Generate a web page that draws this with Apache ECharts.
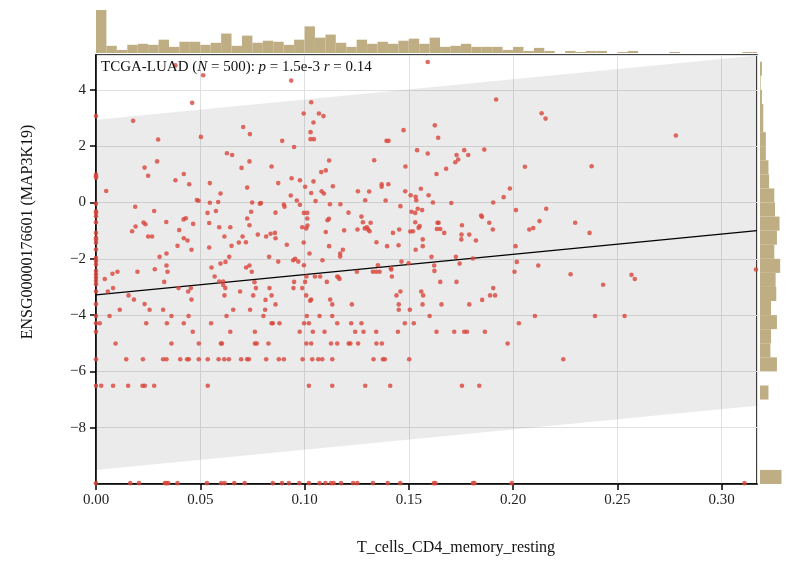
<!DOCTYPE html>
<html>
<head>
<meta charset="utf-8">
<script src="https://cdn.jsdelivr.net/npm/echarts@6/dist/echarts.min.js"></script>
<style>
  html, body { margin: 0; padding: 0; background: #fff; }
  #chart { width: 788px; height: 562px; }
</style>
</head>
<body>
<div id="chart"></div>
<script>
// ---------- data ----------
const cohort = 'TCGA-LUAD';
const sampleCount = 500;
const pText = '1.5e-3';
const rText = '0.14';
const xName = 'T_cells_CD4_memory_resting';
const yName = 'ENSG00000176601 (MAP3K19)';

// samples with zero T_cells_CD4_memory_resting fraction (expression values)
const zeroFractionExpr = [3.07, 0.99, 0.93, 0.88, -0.04, -0.31, -0.37, -0.49, -0.70, -1.08, -1.25, -1.31,
  -1.43, -1.67, -1.97, -2.08, -2.20, -2.43, -2.55, -2.66, -2.78, -2.90, -3.16, -3.61, -4.03, -4.29, -4.59,
  -5.57, -6.51, -9.97];

// samples at the expression floor (fractions)
const floorExpr = -9.97;
const floorFraction = [0.0164, 0.0206, 0.0330, 0.0338, 0.0346, 0.0391, 0.0532, 0.0600, 0.0617, 0.0663,
  0.0713, 0.0848, 0.0892, 0.0925, 0.0975, 0.1021, 0.1072, 0.1100, 0.1127, 0.1140, 0.1175, 0.1233, 0.1253,
  0.1328, 0.1399, 0.1459, 0.1620, 0.1628, 0.1808, 0.1815, 0.1994, 0.3110];

// two low discrete expression levels (fractions)
const lowLevelA = -5.57;
const lowLevelAFraction = [0.0145, 0.0225, 0.0322, 0.0338, 0.0404, 0.0437, 0.0445, 0.0493, 0.0536, 0.0588,
  0.0615, 0.0637, 0.0696, 0.0725, 0.0733, 0.0816, 0.0877, 0.0901, 0.0991, 0.1037, 0.1066, 0.1085, 0.1133,
  0.1331, 0.1376, 0.1385, 0.1502, 0.2241];
const lowLevelB = -6.51;
const lowLevelBFraction = [0.0025, 0.0082, 0.0154, 0.0223, 0.0234, 0.0279, 0.0536, 0.1021, 0.1133, 0.1291,
  0.1411, 0.1755, 0.1838];

// remaining samples: fraction / expression pairs
const fraction = [
  0.0381, 0.0514, 0.0461, 0.0178, 0.0706, 0.0738, 0.0298, 0.0503, 0.0628, 0.0653, 0.0736, 0.0293, 0.0233,
  0.0250, 0.0698, 0.0421, 0.0381, 0.0447, 0.0546, 0.0049, 0.0725, 0.0597, 0.0484, 0.0492, 0.0546, 0.0586,
  0.0749, 0.0786, 0.0188, 0.0279, 0.0535, 0.0575, 0.0744, 0.0420, 0.0431, 0.0337, 0.0228, 0.0237, 0.0190,
  0.0466, 0.0543, 0.0725, 0.0736, 0.0591, 0.0644, 0.0173, 0.0399, 0.0776, 0.0250, 0.0269, 0.0421, 0.0439,
  0.0616, 0.0703, 0.0685, 0.0719, 0.0391, 0.0650, 0.0458, 0.0543, 0.0338, 0.0305, 0.0639, 0.0597, 0.0621,
  0.0338, 0.0282, 0.0554, 0.0720, 0.0736,
  0.0042, 0.0079, 0.0103, 0.0199, 0.0343, 0.0327, 0.0057, 0.0082, 0.0156, 0.0182, 0.0233, 0.0257, 0.0322,
  0.0114, 0.0065, 0.0241, 0.0340, 0.0362, 0.0396, 0.0442, 0.0455, 0.0458, 0.0421, 0.0444, 0.0464, 0.0094,
  0.0362, 0.0493, 0.0569, 0.0591, 0.0610, 0.0610, 0.0620, 0.0616, 0.0691, 0.0760, 0.0767, 0.0754, 0.0658,
  0.0739, 0.0626, 0.0552, 0.0644, 0.0762, 0.0599, 0.0604, 0.0762, 0.0771, 0.0747, 0.0018,
  0.0936, 0.1591, 0.1032, 0.0996, 0.1069, 0.1091, 0.1043, 0.1029, 0.1029, 0.1045, 0.0893, 0.0950, 0.1475,
  0.1393, 0.1403, 0.1540, 0.1591, 0.1118, 0.1334, 0.0842, 0.1484, 0.1080, 0.1102, 0.0938, 0.0978, 0.1043,
  0.0874, 0.1003, 0.1136, 0.1370, 0.1370, 0.1402, 0.1256, 0.1310, 0.1082, 0.1093, 0.1032, 0.1558, 0.0934,
  0.0963, 0.1483, 0.1509, 0.1533, 0.1536, 0.1595, 0.0791, 0.0901, 0.0904, 0.0978, 0.1053, 0.1122, 0.1172,
  0.1291, 0.1389, 0.1460, 0.1543, 0.1564, 0.1513, 0.1531, 0.0861, 0.0997, 0.1013, 0.1211, 0.1273, 0.1280,
  0.1317, 0.1013, 0.1110, 0.1117, 0.0989, 0.1008, 0.1014, 0.1254, 0.1289, 0.1305, 0.1312, 0.1299, 0.1531,
  0.1552, 0.1547, 0.1507, 0.1520, 0.1454, 0.1424, 0.1190, 0.1102, 0.0816, 0.0837, 0.0858, 0.0861, 0.1567,
  0.1567, 0.0915, 0.0996, 0.1118, 0.1345, 0.1396, 0.1451, 0.1533, 0.1024, 0.1171, 0.1171, 0.1184, 0.0830,
  0.0874, 0.0946, 0.0955, 0.0970, 0.1086, 0.0997, 0.1352, 0.1414, 0.1465, 0.1499,
  0.1009, 0.1050, 0.1075, 0.1157, 0.1163, 0.1168, 0.1107, 0.1251, 0.1328, 0.1344, 0.1360, 0.1416, 0.1419,
  0.0950, 0.1003, 0.0832, 0.0947, 0.0989, 0.0842, 0.0813, 0.0861, 0.0811, 0.0803, 0.1008, 0.1027, 0.1032,
  0.1123, 0.1133, 0.1227, 0.1072, 0.1011, 0.1133, 0.0842, 0.0848, 0.0880, 0.0998, 0.1021, 0.1157, 0.1224,
  0.1273, 0.1441, 0.1460, 0.1452, 0.1452, 0.1560, 0.1569, 0.1566, 0.1505, 0.1481, 0.1524, 0.1600, 0.0977,
  0.1040, 0.1096, 0.1243, 0.1283, 0.1344, 0.1448, 0.0827, 0.1009, 0.1032, 0.1127, 0.1157, 0.1212, 0.1220,
  0.1257, 0.1345, 0.1371,
  0.1919, 0.2137, 0.2156, 0.1625, 0.1641, 0.1729, 0.1737, 0.1723, 0.1766, 0.1785, 0.1862, 0.1679, 0.1633,
  0.2057, 0.2377, 0.1985, 0.1955, 0.1616, 0.1704, 0.1905, 0.2014, 0.2159, 0.1847, 0.1851, 0.1638, 0.1643,
  0.1635, 0.1651, 0.1670, 0.1755, 0.1886, 0.1903, 0.2127, 0.2078, 0.2097, 0.2298, 0.2367, 0.1753, 0.1752,
  0.1790, 0.1822, 0.2012, 0.1609, 0.1726, 0.1807, 0.1744, 0.2018, 0.2121, 0.1622,
  0.1623, 0.2007, 0.2276, 0.1651, 0.1729, 0.1905, 0.1890, 0.1914, 0.1852, 0.1657, 0.1790, 0.2105, 0.2393,
  0.2028, 0.1633, 0.1718, 0.1766, 0.1779, 0.1865, 0.1974,
  0.2781, 0.2432, 0.2568, 0.2584, 0.2535, 0.3165
];
const expression = [
  4.87, 4.52, 3.54, 2.90, 2.68, 2.43, 2.24, 2.33, 1.75, 1.69, 1.46, 1.46, 1.24,
  0.95, 1.23, 1.01, 0.79, 0.65, 0.69, 0.41, 0.53, 0.32, 0.09, 0.06, -0.01, 0.02,
  0.00, -0.04, -0.15, -0.30, -0.37, -0.30, -0.33, -0.60, -0.56, -0.69, -0.71, -0.77, -0.85,
  -0.76, -0.73, -0.57, -0.81, -0.88, -0.88, -1.02, -0.98, -1.14, -1.21, -1.21, -1.27, -1.35,
  -1.21, -1.21, -1.42, -1.41, -1.54, -1.54, -1.68, -1.60, -1.81, -1.93, -1.93, -2.17, -2.11,
  -2.24, -2.37, -2.31, -2.31, -2.24,
  -2.72, -2.53, -2.46, -2.46, -2.46, -2.82, -3.16, -3.04, -3.30, -3.45, -3.61, -3.81, -3.81,
  -3.81, -4.03, -4.29, -4.29, -4.03, -3.04, -3.16, -3.04, -3.45, -4.29, -4.03, -4.59, -5.01,
  -5.01, -5.01, -2.63, -2.81, -2.81, -2.93, -3.04, -3.30, -3.16, -2.83, -3.04, -3.30, -3.81,
  -3.81, -4.03, -4.29, -4.59, -4.59, -5.01, -5.01, -5.01, -5.01, -2.46, -4.29,
  4.33, 4.99, 3.56, 3.16, 3.16, 3.07, 2.84, 2.50, 2.25, 2.25, 2.19, 1.97, 2.57,
  2.19, 2.19, 1.86, 1.74, 1.49, 1.50, 1.28, 1.28, 1.08, 1.14, 0.86, 0.79, 0.75,
  0.69, 0.56, 0.58, 0.65, 0.56, 0.65, 0.40, 0.39, 0.40, 0.32, 0.34, 0.49, 0.25,
  0.07, 0.40, 0.26, 0.20, 0.08, 0.26, -0.02, -0.07, -0.15, -0.08, 0.05, -0.06, -0.06,
  0.08, 0.07, -0.13, -0.22, -0.27, -0.33, -0.37, -0.36, -0.37, -0.37, -0.36, -0.50, -0.70,
  -0.72, -0.57, -0.63, -0.58, -0.88, -0.92, -0.82, -0.96, -0.92, -0.96, -1.02, -0.88, -0.70,
  -0.84, -0.90, -1.03, -1.02, -0.96, -1.08, -0.99, -1.05, -1.21, -1.11, -1.08, -1.27, -1.31,
  -1.55, -1.50, -1.42, -1.55, -1.41, -1.55, -1.52, -1.68, -1.81, -1.81, -1.92, -1.68, -1.93,
  -2.10, -2.05, -2.00, -2.10, -2.05, -2.23, -2.23, -2.34, -2.10, -2.16,
  -2.63, -2.63, -2.63, -2.63, -2.66, -2.72, -2.82, -2.46, -2.46, -2.46, -2.46, -2.38, -2.63,
  -2.82, -2.82, -3.04, -3.04, -3.04, -3.30, -3.46, -3.62, -3.81, -4.03, -3.30, -3.49, -3.45,
  -3.45, -3.62, -3.62, -4.03, -4.03, -4.03, -4.29, -4.29, -4.29, -4.29, -4.29, -4.29, -4.29,
  -4.29, -3.30, -3.16, -3.62, -3.81, -3.16, -3.30, -3.62, -3.81, -4.29, -4.29, -4.03, -4.59,
  -4.59, -4.59, -4.59, -4.59, -4.59, -4.59, -5.01, -5.01, -5.01, -5.01, -5.01, -5.01, -5.01,
  -5.01, -5.01, -5.01,
  3.66, 3.17, 2.98, 2.74, 2.30, 1.69, 1.53, 1.43, 1.86, 1.69, 1.88, 1.20, 1.01,
  1.27, 1.29, 0.50, 0.19, 0.00, -0.02, 0.00, -0.27, -0.22, -0.46, -0.51, -0.72, -0.72,
  -0.94, -0.94, -1.08, -0.81, -0.72, -0.96, -0.66, -0.96, -0.91, -0.72, -1.08, -1.14, -1.31,
  -1.14, -1.35, -1.55, -1.93, -1.93, -1.99, -2.17, -2.11, -2.24, -2.24,
  -2.43, -2.46, -2.55, -2.82, -2.82, -3.04, -3.30, -3.30, -3.46, -3.62, -3.62, -4.03, -4.03,
  -4.29, -4.59, -4.59, -4.59, -4.59, -4.59, -5.01,
  2.38, -2.92, -2.57, -2.72, -4.03, -2.38
];

// linear fit and its prediction band
const fitIntercept = -3.28;
const fitSlope = 7.2;
const bandHalfWidth = 6.22;

// marginal histogram of the fraction (bin width 0.005, starting at 0)
const fractionBinWidth = 0.005;
const fractionCounts = [42, 7, 3, 8, 9, 8, 13, 6, 11, 11, 8, 10, 19, 7, 17, 10, 12, 11, 8, 13,
  26, 15, 18, 10, 6, 13, 9, 11, 9, 12, 14, 9, 15, 6, 7, 9, 6, 6, 6, 3,
  6, 2, 5, 2, 0, 2, 1, 2, 2, 0, 1, 2, 0, 0, 0, 1, 0, 0, 0, 0, 0, 0, 1, 1];

// marginal histogram of the expression (bin width 0.5, starting at -10)
const exprBinStart = -10;
const exprBinWidth = 0.5;
const exprCounts = [33, 0, 0, 0, 0, 0, 13, 0, 26, 16, 17, 26, 17, 25, 24, 31, 22, 26, 30, 23,
  22, 14, 13, 9, 9, 5, 5, 3, 1, 3];

// axis ticks
const xTickStep = 0.05;
const yTickStep = 2;

// ---------- chart ----------
const SERIF = '"Liberation Serif", "DejaVu Serif", serif';
const POINT = '#d9463b';
const HIST = '#bfae84';
const X_MIN = 0, X_MAX = 0.317;
const Y_MIN = -10, Y_MAX = 5.24;

const points = [];
zeroFractionExpr.forEach(v => points.push([0, v]));
floorFraction.forEach(f => points.push([f, floorExpr]));
lowLevelAFraction.forEach(f => points.push([f, lowLevelA]));
lowLevelBFraction.forEach(f => points.push([f, lowLevelB]));
fraction.forEach((f, i) => points.push([f, expression[i]]));

const fit = x => fitIntercept + fitSlope * x;

const topBins = fractionCounts.map((c, i) =>
  [i * fractionBinWidth, Math.min((i + 1) * fractionBinWidth, X_MAX), c]);
const sideBins = exprCounts.map((c, i) =>
  [exprBinStart + i * exprBinWidth, exprBinStart + (i + 1) * exprBinWidth, c]);

const minus = v => (v < 0 ? '\u2212' + Math.abs(v) : String(v));

const chart = echarts.init(document.getElementById('chart'), null, { renderer: 'canvas' });
chart.setOption({
  animation: false,
  backgroundColor: '#fff',
  title: {
    left: 101, top: 60, padding: 0,
    text: `{t|${cohort} (}{i|N}{t| = ${sampleCount}): }{i|p}{t| = ${pText} }{i|r}{t| = ${rText}}`,
    textStyle: {
      fontWeight: 'normal',
      rich: {
        t: { fontFamily: SERIF, fontSize: 15, fontWeight: 'normal', color: '#111' },
        i: { fontFamily: SERIF, fontSize: 15, fontWeight: 'normal', fontStyle: 'italic', color: '#111' }
      }
    }
  },
  grid: [
    { left: 96, top: 55, width: 661, height: 429, show: true, borderColor: '#000', borderWidth: 1.5,
      backgroundColor: 'transparent' },
    { left: 96, top: 10, width: 661, height: 43 },
    { left: 760, top: 55, width: 43, height: 429 }
  ],
  xAxis: [
    {
      gridIndex: 0, type: 'value', min: X_MIN, max: X_MAX, interval: xTickStep,
      axisLine: { show: true, onZero: false, lineStyle: { color: '#000', width: 1.5 } },
      axisTick: { show: true, length: 6, lineStyle: { color: '#000', width: 1.5 } },
      axisLabel: { showMaxLabel: false, margin: 9, fontFamily: SERIF, fontSize: 15, color: '#222',
        formatter: v => v.toFixed(2) },
      splitLine: { show: true, lineStyle: { color: '#e0e0e0', width: 1 } }
    },
    { gridIndex: 1, type: 'value', min: X_MIN, max: X_MAX, show: false },
    { gridIndex: 2, type: 'value', min: 0, max: 43, show: false }
  ],
  yAxis: [
    {
      gridIndex: 0, type: 'value', min: Y_MIN, max: Y_MAX, interval: yTickStep,
      axisLine: { show: true, onZero: false, lineStyle: { color: '#000', width: 1.5 } },
      axisTick: { show: true, length: 6, lineStyle: { color: '#000', width: 1.5 } },
      axisLabel: { showMinLabel: false, showMaxLabel: false, margin: 10, fontFamily: SERIF, fontSize: 15,
        color: '#222', formatter: minus },
      splitLine: { show: true, lineStyle: { color: '#e0e0e0', width: 1 } }
    },
    { gridIndex: 1, type: 'value', min: 0, max: 42, show: false },
    { gridIndex: 2, type: 'value', min: Y_MIN, max: Y_MAX, show: false }
  ],
  graphic: [
    { type: 'text', x: 456, y: 548, z: 10,
      style: { text: xName, font: '16px ' + SERIF, fill: '#111', align: 'center', verticalAlign: 'middle',
        textAlign: 'center', textVerticalAlign: 'middle' } },
    { type: 'text', x: 28, y: 232, rotation: Math.PI / 2, z: 10,
      style: { text: yName, font: '16px ' + SERIF, fill: '#111', align: 'center', verticalAlign: 'middle',
        textAlign: 'center', textVerticalAlign: 'middle' } }
  ],
  series: [
    {
      // prediction band around the fit
      type: 'custom', xAxisIndex: 0, yAxisIndex: 0, silent: true, clip: true, z: 1,
      data: [[X_MIN, X_MAX]],
      renderItem: (params, api) => {
        const a = api.value(0), b = api.value(1);
        return {
          type: 'polygon',
          shape: { points: [
            api.coord([a, fit(a) + bandHalfWidth]), api.coord([b, fit(b) + bandHalfWidth]),
            api.coord([b, fit(b) - bandHalfWidth]), api.coord([a, fit(a) - bandHalfWidth])
          ] },
          style: { fill: 'rgba(0,0,0,0.08)' }
        };
      }
    },
    {
      type: 'line', xAxisIndex: 0, yAxisIndex: 0, z: 3, silent: true,
      data: [[X_MIN, fit(X_MIN)], [X_MAX, fit(X_MAX)]],
      symbol: 'none', lineStyle: { color: '#000', width: 1.1 }
    },
    {
      type: 'scatter', xAxisIndex: 0, yAxisIndex: 0, z: 4, clip: false,
      data: points, symbolSize: 4.6, itemStyle: { color: POINT }
    },
    {
      // marginal histogram on top
      type: 'custom', xAxisIndex: 1, yAxisIndex: 1, silent: true,
      data: topBins,
      renderItem: (params, api) => {
        const p0 = api.coord([api.value(0), api.value(2)]);
        const p1 = api.coord([api.value(1), 0]);
        return { type: 'rect', shape: { x: p0[0], y: p0[1], width: p1[0] - p0[0], height: p1[1] - p0[1] },
          style: { fill: HIST } };
      }
    },
    {
      // marginal histogram on the right
      type: 'custom', xAxisIndex: 2, yAxisIndex: 2, silent: true,
      data: sideBins,
      renderItem: (params, api) => {
        const p0 = api.coord([0, api.value(1)]);
        const p1 = api.coord([api.value(2), api.value(0)]);
        return { type: 'rect', shape: { x: p0[0], y: p0[1], width: p1[0] - p0[0], height: p1[1] - p0[1] },
          style: { fill: HIST } };
      }
    }
  ]
});
</script>
</body>
</html>
